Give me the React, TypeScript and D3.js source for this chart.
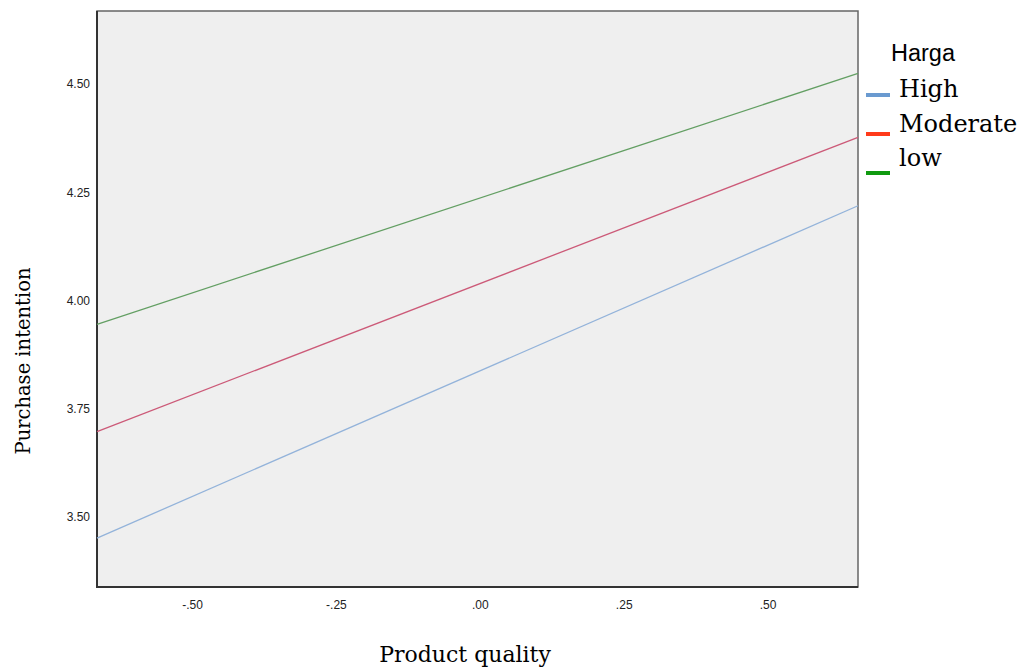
import { useRef, useEffect } from 'react';
import * as d3 from 'd3';

const xTicks = [-0.5, -0.25, 0, 0.25, 0.5];
const yTicks = [3.5, 3.75, 4.0, 4.25, 4.5];
const xDomain = [-0.665, 0.657];
const yDomain = [3.338, 4.669];

const seriesNames = ['High', 'Moderate', 'low'];
const startValues = [3.451, 3.697, 3.945];
const endValues = [4.219, 4.377, 4.525];
const lineColors = ['#93b3da', '#cc5a78', '#639f63'];
const swatchColors = ['#6a9ad0', '#ff3a1a', '#109a10'];

// SPSS style labels: ".25", "-.50"
const spssFormat = (v: number) => {
  const s = Math.abs(v).toFixed(2).replace(/^0\./, '.');
  return v < 0 ? '-' + s : s;
};

export default function App() {
  const svgRef = useRef<SVGSVGElement>(null);
  const width = 1020;
  const height = 668;

  useEffect(() => {
    const margin = { top: 11, right: 162, bottom: 81, left: 97 };
    const svg = d3.select(svgRef.current);
    svg.selectAll('*').remove();

    const xScale = d3
      .scaleLinear()
      .domain(xDomain)
      .range([margin.left, width - margin.right]);

    const yScale = d3
      .scaleLinear()
      .domain(yDomain)
      .range([height - margin.bottom, margin.top]);

    // plot background
    svg
      .append('rect')
      .attr('x', margin.left)
      .attr('y', margin.top)
      .attr('width', width - margin.left - margin.right)
      .attr('height', height - margin.top - margin.bottom)
      .attr('fill', '#efefef')
      .attr('stroke', '#666')
      .attr('stroke-width', 1.5);

    // x axis labels
    const xAxis = svg
      .append('g')
      .attr('transform', `translate(0,${height - margin.bottom})`)
      .call(
        d3
          .axisBottom(xScale)
          .tickValues(xTicks)
          .tickSize(0)
          .tickPadding(13)
          .tickFormat((d) => spssFormat(d as number))
      );
    xAxis.select('.domain').remove();
    xAxis
      .selectAll('text')
      .style('font-family', 'Liberation Sans, Arial, sans-serif')
      .style('font-size', '12px')
      .attr('fill', '#222');

    // y axis labels
    const yAxis = svg
      .append('g')
      .attr('transform', `translate(${margin.left},0)`)
      .call(
        d3
          .axisLeft(yScale)
          .tickValues(yTicks)
          .tickSize(0)
          .tickPadding(7)
          .tickFormat((d) => spssFormat(d as number))
      );
    yAxis.select('.domain').remove();
    yAxis
      .selectAll('text')
      .style('font-family', 'Liberation Sans, Arial, sans-serif')
      .style('font-size', '12px')
      .attr('fill', '#222');

    // darker left and bottom frame
    svg
      .append('path')
      .attr(
        'd',
        `M${margin.left},${margin.top}V${height - margin.bottom}H${width - margin.right}`
      )
      .attr('fill', 'none')
      .attr('stroke', '#333')
      .attr('stroke-width', 2);

    // axis titles
    svg
      .append('text')
      .attr('x', 465)
      .attr('y', 662)
      .attr('text-anchor', 'middle')
      .attr('fill', 'black')
      .style('font-family', 'DejaVu Serif, Liberation Serif, serif')
      .style('font-size', '22px')
      .text('Product quality');

    svg
      .append('text')
      .attr('transform', 'rotate(-90)')
      .attr('x', -361)
      .attr('y', 30)
      .attr('text-anchor', 'middle')
      .attr('fill', 'black')
      .style('font-family', 'DejaVu Serif, Liberation Serif, serif')
      .style('font-size', '19.5px')
      .text('Purchase intention');

    // regression lines
    const lineData = seriesNames.map((name, i) => ({
      name,
      color: lineColors[i],
      points: [
        [xDomain[0], startValues[i]],
        [xDomain[1], endValues[i]],
      ],
    }));

    const line = d3
      .line<number[]>()
      .x((d) => xScale(d[0]))
      .y((d) => yScale(d[1]));

    svg
      .selectAll('.series')
      .data(lineData)
      .join('path')
      .attr('class', 'series')
      .attr('d', (d) => line(d.points))
      .attr('fill', 'none')
      .attr('stroke', (d) => d.color)
      .attr('stroke-width', 1.3);

    // legend
    const legend = svg.append('g').attr('transform', 'translate(866,0)');

    legend
      .append('text')
      .attr('x', 25)
      .attr('y', 61)
      .attr('fill', 'black')
      .style('font-family', 'Liberation Sans, Arial, sans-serif')
      .style('font-size', '23.5px')
      .text('Harga');

    const items = legend
      .selectAll('.legend-item')
      .data(seriesNames)
      .join('g')
      .attr('class', 'legend-item');

    items
      .append('rect')
      .attr('x', 0)
      .attr('y', (_, i) => 93 + i * 39)
      .attr('width', 24)
      .attr('height', 4)
      .attr('fill', (_, i) => swatchColors[i]);

    items
      .append('text')
      .attr('x', 33)
      .attr('y', (_, i) => 97 + i * 34.5)
      .attr('fill', 'black')
      .style('font-family', 'DejaVu Serif, Liberation Serif, serif')
      .style('font-size', '24px')
      .text((d) => d);
  }, []);

  return (
    <svg
      ref={svgRef}
      width={width}
      height={height}
      style={{ position: 'absolute', left: 0, top: 0, background: 'white' }}
    ></svg>
  );
}
